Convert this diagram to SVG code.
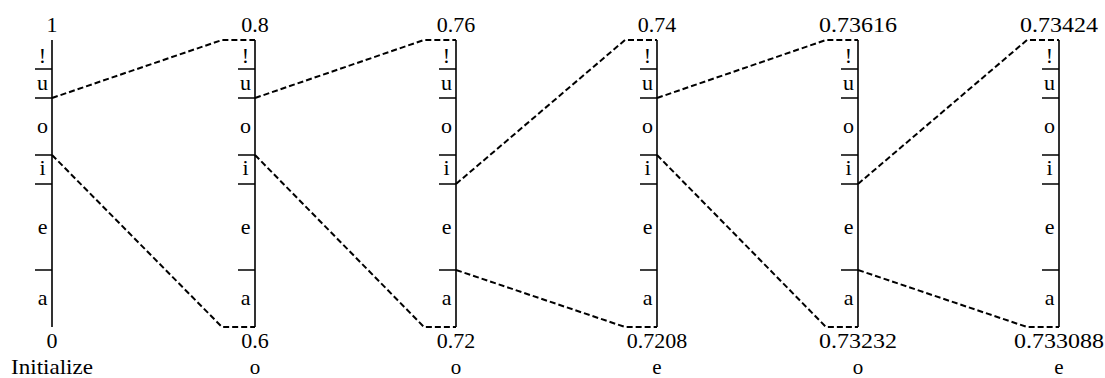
<svg xmlns="http://www.w3.org/2000/svg" width="1105" height="378" viewBox="0 0 1105 378">
<style>
text{font-family:"Liberation Serif","Times New Roman","DejaVu Serif",serif;font-size:22px;fill:#000;text-anchor:middle}
text.b{font-size:21px}
.ax{stroke:#000;stroke-width:1.6;fill:none}
.dash{stroke:#000;stroke-width:2;fill:none;stroke-dasharray:6 3}
</style>
<defs>
<g id="scale">
<path class="ax" d="M0 40V327M-17 69H0M-17 98H0M-17 155H0M-17 184H0M-17 270H0"/>
<text x="-9.5" y="63">!</text>
<text x="-9.5" y="90">u</text>
<text x="-9.5" y="133">o</text>
<text x="-9.5" y="175">i</text>
<text x="-9.5" y="234">e</text>
<text x="-9.5" y="305">a</text>
</g>
</defs>
<rect width="1105" height="378" fill="#fff"/>
<g id="col1" transform="translate(52,0)"><use href="#scale"/><text x="0" y="32">1</text><text x="0" y="348">0</text><text class="b" x="0" y="374" textLength="82" lengthAdjust="spacingAndGlyphs">Initialize</text></g>
<g id="col2" transform="translate(255,0)"><use href="#scale"/><text x="0" y="32">0.8</text><text x="0" y="348">0.6</text><text class="b" x="0" y="374">o</text></g>
<g id="col3" transform="translate(456,0)"><use href="#scale"/><text x="0" y="32">0.76</text><text x="0" y="348">0.72</text><text class="b" x="0" y="374">o</text></g>
<g id="col4" transform="translate(657,0)"><use href="#scale"/><text x="0" y="32">0.74</text><text x="0" y="348">0.7208</text><text class="b" x="0" y="374">e</text></g>
<g id="col5" transform="translate(858,0)"><use href="#scale"/><text x="0" y="32" textLength="78" lengthAdjust="spacingAndGlyphs">0.73616</text><text x="0" y="348" textLength="78" lengthAdjust="spacingAndGlyphs">0.73232</text><text class="b" x="0" y="374">o</text></g>
<g id="col6" transform="translate(1059,0)"><use href="#scale"/><text x="0" y="32" textLength="78" lengthAdjust="spacingAndGlyphs">0.73424</text><text x="0" y="348" textLength="90" lengthAdjust="spacingAndGlyphs">0.733088</text><text class="b" x="0" y="374">e</text></g>
<g id="connectors">
<path class="dash" d="M52 98L222 40H255M52 155L222 327H255"/>
<path class="dash" d="M255 98L424 40H456M255 155L424 327H456"/>
<path class="dash" d="M456 184L625 40H657M456 270L625 327H657"/>
<path class="dash" d="M657 98L826 40H858M657 155L826 327H858"/>
<path class="dash" d="M858 184L1027 40H1059M858 270L1027 327H1059"/>
</g>
</svg>
